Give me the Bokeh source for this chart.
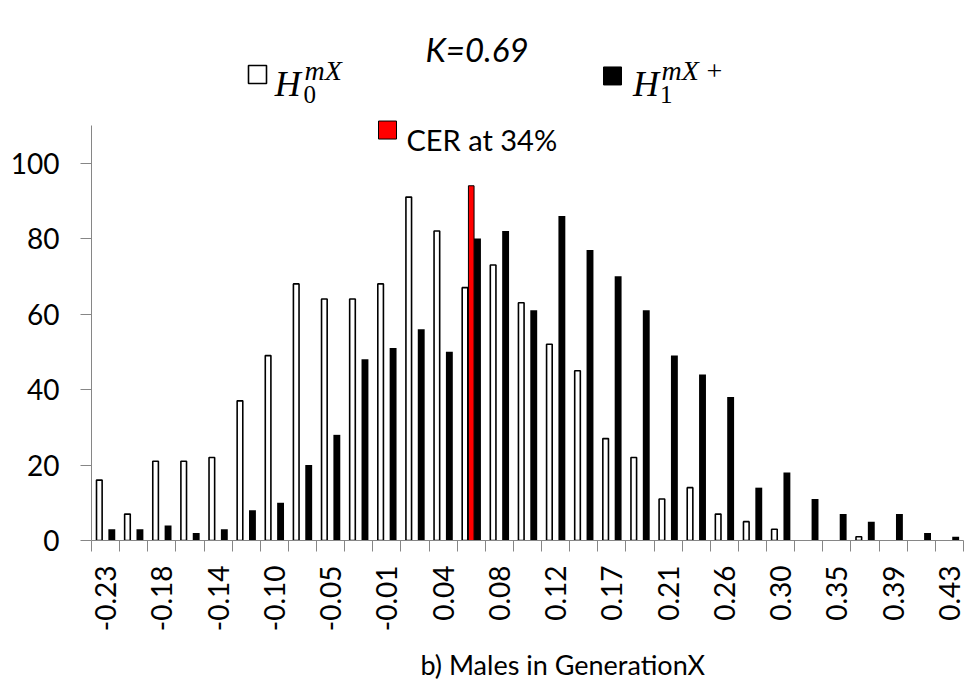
import numpy as np
from bokeh.plotting import figure
from bokeh.models import FixedTicker, Range1d, Title, ColumnDataSource
from bokeh.core.properties import value
from bokeh.embed import file_html
from bokeh.resources import INLINE
import math

# ---------------- data ----------------
bins = ["-0.23", "-0.21", "-0.18", "-0.16", "-0.14", "-0.12", "-0.10", "-0.08",
        "-0.05", "-0.03", "-0.01", "0.01", "0.04", "0.06", "0.08", "0.10",
        "0.12", "0.15", "0.17", "0.19", "0.21", "0.24", "0.26", "0.28",
        "0.30", "0.33", "0.35", "0.37", "0.39", "0.41", "0.43"]
h0_counts = [16, 7, 21, 21, 22, 37, 49, 68, 64, 64, 68, 91, 82, 67, 73, 63,
             52, 45, 27, 22, 11, 14, 7, 5, 3, 0, 0, 1, 0, 0, 0]
h1_counts = [3, 3, 4, 2, 3, 8, 10, 20, 28, 48, 51, 56, 50, 80, 82, 61,
             86, 77, 70, 61, 49, 44, 38, 14, 18, 11, 7, 5, 7, 2, 1]
cer_bin = "0.06"
cer_value = 94
y_ticks = [0, 20, 40, 60, 80, 100]
title_text = "K=0.69"
cer_label = "CER at 34%"
x_title = "b)  Males in GenerationX"

# ---------------- layout geometry (figure pixels) ----------------
W, H = 972, 692
FL, FR, FT, FB = 91.0, 963.0, 10.0, 540.3
PX_PER_UNIT = 3.776
X0, X1 = -0.5, len(bins) - 0.5
Y0 = 0.0
Y1 = (FB - FT) / PX_PER_UNIT


def dx(px):
    return X0 + (px - FL) / (FR - FL) * (X1 - X0)


def dy(py):
    return Y0 + (FB - py) / (FB - FT) * (Y1 - Y0)


GRAY = "#868686"
FONT = "Lato"

p = figure(width=W, height=H, output_backend="svg", toolbar_location=None,
           x_range=Range1d(X0, X1), y_range=Range1d(Y0, Y1),
           min_border_left=int(FL), min_border_right=int(W - FR),
           min_border_top=int(FT), min_border_bottom=int(round(H - FB)))
p.outline_line_color = None
p.xgrid.visible = False
p.ygrid.visible = False
p.background_fill_color = "white"
p.border_fill_color = "white"

idx = np.arange(len(bins))
h0 = np.array(h0_counts)
h1 = np.array(h1_counts)
OFF = 0.222

src0 = ColumnDataSource(dict(x=(idx - OFF)[h0 > 0], top=h0[h0 > 0]))
src1 = ColumnDataSource(dict(x=(idx + OFF)[h1 > 0], top=h1[h1 > 0]))
ci = bins.index(cer_bin)
srcc = ColumnDataSource(dict(x=[idx[ci]], top=[cer_value]))

p.vbar(x="x", top="top", width=0.2, bottom=0, source=src0,
       fill_color="white", line_color="black", line_width=1.6)
p.vbar(x="x", top="top", width=0.245, bottom=0, source=src1,
       fill_color="black", line_color=None)
p.vbar(x="x", top="top", width=0.2, bottom=0, source=srcc,
       fill_color="#ff0000", line_color="black", line_width=1)

# ---------------- axes ----------------
xa = p.xaxis[0]
xa.ticker = FixedTicker(ticks=[int(i) for i in idx[::2]],
                        minor_ticks=[float(i) - 0.5 for i in range(len(bins) + 1)])
xa.major_label_overrides = {int(i): bins[i] for i in idx[::2]}
xa.major_label_orientation = math.pi / 2
xa.major_tick_line_color = None
xa.major_tick_out = 0
xa.major_tick_in = 0
xa.minor_tick_line_color = GRAY
xa.minor_tick_out = 11
xa.minor_tick_in = 0
xa.axis_line_color = GRAY
xa.major_label_text_font = FONT
xa.major_label_text_font_size = "28px"
xa.major_label_text_color = "black"
xa.major_label_standoff = 14

ya = p.yaxis[0]
ya.ticker = FixedTicker(ticks=y_ticks)
ya.bounds = (0, 110)
ya.axis_line_color = GRAY
ya.major_tick_line_color = GRAY
ya.major_tick_out = 11
ya.major_tick_in = 0
ya.minor_tick_line_color = None
ya.major_label_text_font = FONT
ya.major_label_text_font_size = "28px"
ya.major_label_text_color = "black"
ya.major_label_standoff = 21

p.add_layout(Title(text=x_title, align="left", offset=420 - FL, standoff=22,
                   text_font=FONT, text_font_size="27px",
                   text_font_style="normal", text_color="black"), "below")

# ---------------- title and legend ----------------
p.text(x=[dx(476.5)], y=[dy(48.3)], text=[title_text], text_align="center",
       text_baseline="alphabetic", text_font=value(FONT),
       text_font_size=value("33px"), text_font_style="italic", text_color="black")

# legend markers
p.scatter(x=[dx(257)], y=[dy(74)], marker="square", size=18,
          fill_color="white", line_color="black", line_width=1.6)
p.scatter(x=[dx(612)], y=[dy(75.5)], marker="square", size=18,
          fill_color="black", line_color="black")
p.scatter(x=[dx(387)], y=[dy(129.6)], marker="square", size=18,
          fill_color="#ff0000", line_color="black", line_width=1)

SERIF = "Liberation Serif"
p.text(x=[dx(274.3), dx(632.5)], y=[dy(83.6), dy(83.6)], text=["H", "H"],
       text_baseline="alphabetic", text_font=value(SERIF),
       text_font_size=value("36px"), text_font_style="italic", text_color="black")
p.text(x=[dx(303), dx(659.5)], y=[dy(94), dy(94.5)], text=["0", "1"],
       text_baseline="alphabetic", text_font=value(SERIF),
       text_font_size=value("25px"), text_color="black")
p.text(x=[dx(304), dx(661)], y=[dy(70.5), dy(70.5)], text=["mX", "mX"],
       text_baseline="alphabetic", text_font=value(SERIF),
       text_font_size=value("28px"), text_font_style="italic", text_color="black")
p.text(x=[dx(706)], y=[dy(70.5)], text=["+"],
       text_baseline="alphabetic", text_font=value(SERIF),
       text_font_size=value("28px"), text_color="black")

p.text(x=[dx(406)], y=[dy(139.3)], text=[cer_label], text_baseline="alphabetic",
       text_font=value(FONT), text_font_size=value("29px"), text_color="black")

open("out.html", "w").write(file_html(p, INLINE))
